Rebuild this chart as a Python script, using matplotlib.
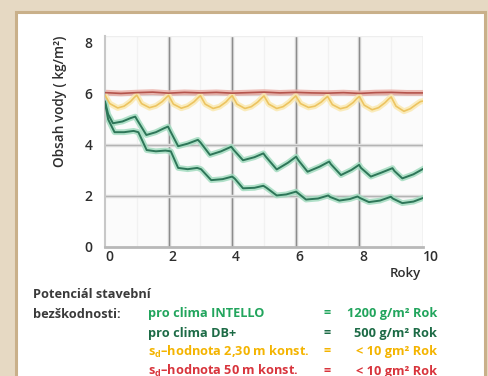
import matplotlib
matplotlib.use("Agg")
from matplotlib import pyplot as plt
from matplotlib.patches import Rectangle

plt.rcParams['font.family'] = ['Open Sans', 'DejaVu Sans']
plt.rcParams['mathtext.fontset'] = 'custom'
plt.rcParams['mathtext.rm'] = 'Open Sans:bold'
plt.rcParams['mathtext.bf'] = 'Open Sans:bold'

# DB+ (upper green curve)
dbplus_x = [0.0, 0.1, 0.25, 0.55, 0.8, 0.95, 1.05, 1.3, 1.6, 1.85, 1.98, 2.05, 2.3, 2.6, 2.92, 3.0,
            3.3, 3.65, 3.97, 4.05, 4.34, 4.7, 4.98, 5.05, 5.4, 5.75, 6.01, 6.08, 6.37, 6.75, 7.05,
            7.1, 7.42, 7.75, 7.99, 8.05, 8.36, 8.7, 9.04, 9.1, 9.35, 9.7, 10.0]
dbplus_y = [5.7, 5.2, 4.85, 4.92, 5.05, 5.11, 4.9, 4.39, 4.5, 4.65, 4.72, 4.55, 3.95, 4.05, 4.2, 4.1,
            3.61, 3.75, 3.93, 3.8, 3.4, 3.52, 3.67, 3.55, 3.04, 3.3, 3.54, 3.4, 2.95, 3.15, 3.35,
            3.25, 2.82, 3.02, 3.22, 3.1, 2.76, 2.92, 3.09, 2.98, 2.69, 2.85, 3.06]

# INTELLO (lower green curve)
intello_x = [0.0, 0.1, 0.3, 0.6, 0.9, 1.05, 1.31, 1.6, 1.9, 2.07, 2.3, 2.6, 2.9, 3.02, 3.34, 3.7,
             4.0, 4.08, 4.34, 4.7, 4.98, 5.08, 5.4, 5.7, 6.01, 6.08, 6.32, 6.7, 7.02, 7.08, 7.37,
             7.7, 7.94, 8.02, 8.3, 8.65, 8.99, 9.05, 9.35, 9.7, 10.0]
intello_y = [5.65, 5.0, 4.5, 4.5, 4.55, 4.5, 3.8, 3.75, 3.78, 3.75, 3.1, 3.05, 3.1, 3.05, 2.62, 2.66,
             2.76, 2.68, 2.3, 2.32, 2.4, 2.32, 2.02, 2.06, 2.17, 2.1, 1.86, 1.9, 2.02, 1.96, 1.82,
             1.88, 1.98, 1.92, 1.76, 1.82, 1.97, 1.9, 1.72, 1.78, 1.92]

# sd 2,30 m (yellow)
sd230_x = [0.0, 0.15, 0.4, 0.6, 0.8, 0.92,
           1.0, 1.15, 1.4, 1.6, 1.8, 1.92,
           2.0, 2.15, 2.4, 2.6, 2.8, 2.92,
           3.0, 3.15, 3.4, 3.6, 3.8, 3.92,
           4.0, 4.15, 4.4, 4.6, 4.8, 4.92,
           5.0, 5.15, 5.4, 5.6, 5.8, 5.92,
           6.0, 6.15, 6.4, 6.6, 6.8, 6.92,
           7.0, 7.15, 7.4, 7.6, 7.8, 7.92,
           8.0, 8.15, 8.4, 8.6, 8.8, 8.92,
           9.0, 9.15, 9.4, 9.6, 9.8, 9.92, 10.0]
sd230_y = [5.95, 5.62, 5.45, 5.52, 5.7, 5.86,
           5.95, 5.62, 5.46, 5.53, 5.7, 5.85,
           5.94, 5.6, 5.44, 5.52, 5.69, 5.84,
           5.93, 5.6, 5.43, 5.5, 5.68, 5.84,
           5.93, 5.6, 5.43, 5.5, 5.68, 5.83,
           5.92, 5.6, 5.43, 5.5, 5.68, 5.83,
           5.92, 5.62, 5.47, 5.52, 5.68, 5.82,
           5.9, 5.58, 5.42, 5.48, 5.66, 5.82,
           5.9, 5.56, 5.38, 5.46, 5.65, 5.8,
           5.88, 5.52, 5.32, 5.42, 5.6, 5.7, 5.72]

# sd 50 m (red)
sd50_x = [0, 0.5, 1, 1.5, 2, 2.5, 3, 3.5, 4, 4.5, 5, 5.5, 6, 6.5, 7, 7.5, 8, 8.5, 9, 9.5, 10]
sd50_y = [6.05, 6.02, 6.05, 6.07, 6.03, 6.06, 6.04, 6.06, 6.03, 6.05, 6.07, 6.04, 6.06, 6.04, 6.03,
          6.05, 6.02, 6.05, 6.06, 6.04, 6.04]

x_ticks = [0, 2, 4, 6, 8, 10]
y_ticks = [0, 2, 4, 6, 8]

fig = plt.figure(figsize=(4.88, 3.76), dpi=100)
fig.patch.set_facecolor('#e6d9c3')
fig.patches.append(Rectangle((15.5 / 488, -0.1), 469 / 488, 1.1 - 11.5 / 376,
                             transform=fig.transFigure, facecolor='white',
                             edgecolor='#c9b08a', linewidth=2.2, zorder=-1))

ax = fig.add_axes([105 / 488, 1 - 247 / 376, 318 / 488, 211 / 376])
ax.set_zorder(2)
ax.set_facecolor('#fbfbfb')
ax.set_xlim(0, 10)
ax.set_ylim(0, 8.27)

for gx in [1, 3, 5, 7, 9]:
    ax.axvline(gx, color='#f1f1f1', lw=1, zorder=1)
for gx in [2, 4, 6, 8]:
    ax.axvline(gx, color='#d8d8d8', lw=2.5, zorder=1)
    ax.axvline(gx, color='#8c8c8c', lw=0.9, zorder=1)
for gy in [2, 4, 6]:
    ax.axhline(gy, color='#e0e0e0', lw=2.5, zorder=1)
    ax.axhline(gy, color='#b4b4b4', lw=0.9, zorder=1)
ax.axvline(10, color='#cfcfcf', lw=1, zorder=1)
ax.axhline(8.27, color='#eeeeee', lw=1, zorder=1)

series = [
    (sd50_x, sd50_y, '#eab0a8', '#b4544c', 1.2),
    (sd230_x, sd230_y, '#fae9b0', '#ecc461', 1.2),
    (dbplus_x, dbplus_y, '#a3dcc0', '#2d7658', 1.4),
    (intello_x, intello_y, '#a3dcc0', '#2d7658', 1.4),
]
for xs, ys, halo, core, lw in series:
    ax.plot(xs, ys, color=halo, lw=4.2, alpha=0.85, solid_joinstyle='round', zorder=2)
    ax.plot(xs, ys, color=core, lw=lw, solid_joinstyle='round', zorder=3)

for side in ['top', 'right']:
    ax.spines[side].set_visible(False)
ax.spines['left'].set_color('#c8c8c8')
ax.spines['left'].set_linewidth(1.5)
ax.spines['bottom'].set_color('#b8b8b8')
ax.spines['bottom'].set_linewidth(2)

ax.set_xticks(x_ticks)
ax.set_yticks(y_ticks)
ax.set_xticklabels([str(v) for v in x_ticks], ha='left')
ax.set_yticklabels([str(v) for v in y_ticks])
ax.tick_params(axis='both', length=0, labelsize=10, colors='#2e2e2e')
ax.tick_params(axis='y', pad=9)
ax.tick_params(axis='x', pad=2)
for lab in ax.get_xticklabels() + ax.get_yticklabels():
    lab.set_fontweight('semibold')

fig.text(60 / 488, 1 - 101 / 376, 'Obsah vody ( kg/m²)', rotation=90, ha='center', va='center',
         fontsize=9.8, fontweight='semibold', color='#2e2e2e')
fig.text(421 / 488, 1 - 273 / 376, 'Roky', ha='right', va='center',
         fontsize=9.5, fontweight='semibold', color='#2e2e2e')

dark = '#3a3a3a'
fs = 9.2
fig.text(33 / 488, 1 - 295 / 376, 'Potenciál stavební', ha='left', va='center',
         fontsize=fs, fontweight='bold', color=dark)
fig.text(33 / 488, 1 - 314 / 376, 'bezškodnosti:', ha='left', va='center',
         fontsize=fs, fontweight='bold', color=dark)

names = ['pro clima INTELLO', 'pro clima DB+', r's$_\mathrm{d}$–hodnota 2,30 m konst.',
         r's$_\mathrm{d}$–hodnota 50 m konst.']
values = ['1200 g/m² Rok', '500 g/m² Rok', '< 10 gm² Rok', '< 10 gm² Rok']
colors = ['#22a55d', '#1d6b46', '#f4b400', '#d8343c']
rows_y = [314, 333, 352, 371]
for name, val, col, ry in zip(names, values, colors, rows_y):
    yy = 1 - ry / 376
    fig.text(148 / 488, yy, name, ha='left', va='center', fontsize=fs, fontweight='bold', color=col)
    fig.text(323 / 488, yy, '=', ha='left', va='center', fontsize=fs, fontweight='bold', color=col)
    fig.text(437 / 488, yy, val, ha='right', va='center', fontsize=fs, fontweight='bold', color=col)

fig.savefig('out.png', dpi=100, facecolor=fig.get_facecolor())
